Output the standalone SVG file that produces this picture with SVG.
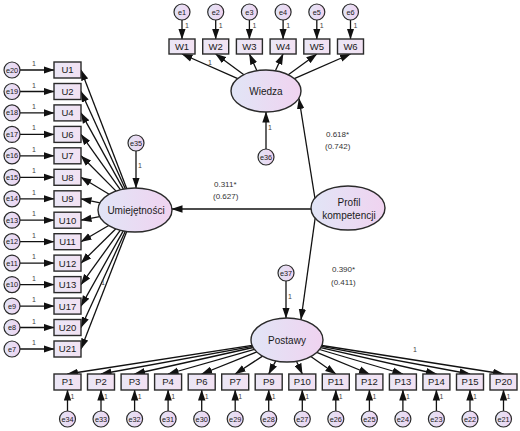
<svg xmlns="http://www.w3.org/2000/svg" width="520" height="431" viewBox="0 0 520 431">
<defs>
<linearGradient id="gl" x1="0" y1="0" x2="1" y2="0"><stop offset="0" stop-color="#e1e5f6"/><stop offset="1" stop-color="#f0d3f0"/></linearGradient>
<linearGradient id="gb" x1="0" y1="0" x2="1" y2="0"><stop offset="0" stop-color="#ebe7f6"/><stop offset="1" stop-color="#f2e1f2"/></linearGradient>
<marker id="ah" markerUnits="userSpaceOnUse" markerWidth="11" markerHeight="8" refX="10.5" refY="4" orient="auto"><path d="M0,0.3 L11,4 L0,7.7 z" fill="#111"/></marker>
<style>
.box{fill:url(#gb);stroke:#2a2a2a;stroke-width:1.4}
.lat{fill:url(#gl);stroke:#2a2a2a;stroke-width:1.4}
.err{fill:url(#gl);stroke:#2a2a2a;stroke-width:1.2}
text{font-family:"Liberation Sans",Arial,sans-serif;text-anchor:middle;fill:#1a1a1a}
.bl{font-size:9.5px}
.ll{font-size:10px}
.el{font-size:7.3px}
.one{font-size:7px;fill:#444}
.cf{font-size:8px;fill:#333;text-anchor:start}
.c line{stroke:#111;stroke-width:1.3;marker-end:url(#ah)}
</style>
</defs>
<rect width="520" height="431" fill="#fff"/>
<g id="connectors" class="c">
<line x1="316" y1="205" x2="299" y2="98.5"/>
<line x1="330" y1="209" x2="172" y2="209"/>
<line x1="316" y1="212" x2="301" y2="319.5"/>
<line x1="266" y1="149" x2="266" y2="112"/>
<line x1="136" y1="151" x2="136" y2="188"/>
<line x1="286" y1="281" x2="286" y2="318"/>
<line x1="237.8" y1="78.6" x2="182" y2="54"/>
<line x1="243.9" y1="74.7" x2="215.7" y2="54"/>
<line x1="256.9" y1="70.7" x2="249.4" y2="54"/>
<line x1="275.4" y1="70.8" x2="283.1" y2="54"/>
<line x1="288.3" y1="74.8" x2="316.8" y2="54"/>
<line x1="294.3" y1="78.6" x2="350.5" y2="54"/>
<line x1="182" y1="20" x2="182" y2="39"/>
<line x1="215.7" y1="20" x2="215.7" y2="39"/>
<line x1="249.4" y1="20" x2="249.4" y2="39"/>
<line x1="283.1" y1="20" x2="283.1" y2="39"/>
<line x1="316.8" y1="20" x2="316.8" y2="39"/>
<line x1="350.5" y1="20" x2="350.5" y2="39"/>
<line x1="126.7" y1="188.6" x2="81" y2="70"/>
<line x1="125.3" y1="188.8" x2="81" y2="91.5"/>
<line x1="123.4" y1="189.1" x2="81" y2="112.9"/>
<line x1="120.5" y1="189.8" x2="81" y2="134.4"/>
<line x1="116.1" y1="191.1" x2="81" y2="155.8"/>
<line x1="109.1" y1="194.3" x2="81" y2="177.3"/>
<line x1="100.1" y1="202.8" x2="81" y2="198.8"/>
<line x1="99.7" y1="216.7" x2="81" y2="220.2"/>
<line x1="108.7" y1="225.5" x2="81" y2="241.7"/>
<line x1="115.9" y1="228.8" x2="81" y2="263.1"/>
<line x1="120.4" y1="230.2" x2="81" y2="284.6"/>
<line x1="123.3" y1="230.9" x2="81" y2="306.1"/>
<line x1="125.3" y1="231.2" x2="81" y2="327.5"/>
<line x1="126.7" y1="231.4" x2="81" y2="349"/>
<line x1="20" y1="70" x2="54" y2="70"/>
<line x1="20" y1="91.5" x2="54" y2="91.5"/>
<line x1="20" y1="112.9" x2="54" y2="112.9"/>
<line x1="20" y1="134.4" x2="54" y2="134.4"/>
<line x1="20" y1="155.8" x2="54" y2="155.8"/>
<line x1="20" y1="177.3" x2="54" y2="177.3"/>
<line x1="20" y1="198.8" x2="54" y2="198.8"/>
<line x1="20" y1="220.2" x2="54" y2="220.2"/>
<line x1="20" y1="241.7" x2="54" y2="241.7"/>
<line x1="20" y1="263.1" x2="54" y2="263.1"/>
<line x1="20" y1="284.6" x2="54" y2="284.6"/>
<line x1="20" y1="306.1" x2="54" y2="306.1"/>
<line x1="20" y1="327.5" x2="54" y2="327.5"/>
<line x1="20" y1="349" x2="54" y2="349"/>
<line x1="252.1" y1="345.4" x2="67.5" y2="374"/>
<line x1="252.5" y1="346.3" x2="101" y2="374"/>
<line x1="253.2" y1="347.5" x2="134.6" y2="374"/>
<line x1="254.4" y1="349.3" x2="168.1" y2="374"/>
<line x1="256.8" y1="352" x2="201.7" y2="374"/>
<line x1="262.5" y1="356.1" x2="235.2" y2="374"/>
<line x1="275.8" y1="360.9" x2="268.7" y2="374"/>
<line x1="296.5" y1="361.2" x2="302.3" y2="374"/>
<line x1="310.8" y1="356.5" x2="335.8" y2="374"/>
<line x1="316.8" y1="352.3" x2="369.4" y2="374"/>
<line x1="319.5" y1="349.5" x2="402.9" y2="374"/>
<line x1="320.7" y1="347.7" x2="436.4" y2="374"/>
<line x1="321.4" y1="346.4" x2="470" y2="374"/>
<line x1="321.9" y1="345.5" x2="503.5" y2="374"/>
<line x1="67.5" y1="411" x2="67.5" y2="390"/>
<line x1="101" y1="411" x2="101" y2="390"/>
<line x1="134.6" y1="411" x2="134.6" y2="390"/>
<line x1="168.1" y1="411" x2="168.1" y2="390"/>
<line x1="201.7" y1="411" x2="201.7" y2="390"/>
<line x1="235.2" y1="411" x2="235.2" y2="390"/>
<line x1="268.7" y1="411" x2="268.7" y2="390"/>
<line x1="302.3" y1="411" x2="302.3" y2="390"/>
<line x1="335.8" y1="411" x2="335.8" y2="390"/>
<line x1="369.4" y1="411" x2="369.4" y2="390"/>
<line x1="402.9" y1="411" x2="402.9" y2="390"/>
<line x1="436.4" y1="411" x2="436.4" y2="390"/>
<line x1="470" y1="411" x2="470" y2="390"/>
<line x1="503.5" y1="411" x2="503.5" y2="390"/>
</g>
<g id="connector-labels">
<text class="cf" x="326" y="137">0.618*</text>
<text class="cf" x="325" y="149">(0.742)</text>
<text class="cf" x="214" y="187">0.311*</text>
<text class="cf" x="213" y="199">(0.627)</text>
<text class="cf" x="332" y="272">0.390*</text>
<text class="cf" x="331" y="285">(0.411)</text>
<text class="one" x="270" y="130">1</text>
<text class="one" x="140" y="168">1</text>
<text class="one" x="290" y="299">1</text>
<text class="one" x="210" y="65">1</text>
<text class="one" x="103" y="285">1</text>
<text class="one" x="415" y="352">1</text>
<text class="one" x="187" y="28">1</text><text class="one" x="220.7" y="28">1</text><text class="one" x="254.4" y="28">1</text><text class="one" x="288.1" y="28">1</text><text class="one" x="321.8" y="28">1</text><text class="one" x="355.5" y="28">1</text>
<text class="one" x="34" y="66">1</text><text class="one" x="34" y="87.5">1</text><text class="one" x="34" y="108.9">1</text><text class="one" x="34" y="130.4">1</text><text class="one" x="34" y="151.8">1</text><text class="one" x="34" y="173.3">1</text><text class="one" x="34" y="194.8">1</text><text class="one" x="34" y="216.2">1</text><text class="one" x="34" y="237.7">1</text><text class="one" x="34" y="259.1">1</text><text class="one" x="34" y="280.6">1</text><text class="one" x="34" y="302.1">1</text><text class="one" x="34" y="323.5">1</text><text class="one" x="34" y="345">1</text>
<text class="one" x="72.5" y="399">1</text><text class="one" x="106" y="399">1</text><text class="one" x="139.6" y="399">1</text><text class="one" x="173.1" y="399">1</text><text class="one" x="206.7" y="399">1</text><text class="one" x="240.2" y="399">1</text><text class="one" x="273.7" y="399">1</text><text class="one" x="307.3" y="399">1</text><text class="one" x="340.8" y="399">1</text><text class="one" x="374.4" y="399">1</text><text class="one" x="407.9" y="399">1</text><text class="one" x="441.4" y="399">1</text><text class="one" x="475" y="399">1</text><text class="one" x="508.5" y="399">1</text>
</g>
<g id="profil"><ellipse class="lat" cx="348" cy="208" rx="37" ry="22"/><text class="ll" x="349" y="206">Profil</text><text class="ll" x="349" y="219">kompetencji</text></g>
<g id="wiedza"><ellipse class="lat" cx="266" cy="91" rx="35" ry="21"/><text class="ll" x="266" y="94.5">Wiedza</text></g>
<g id="umiejetnosci"><ellipse class="lat" cx="135" cy="210" rx="37" ry="22"/><text class="ll" x="136" y="213.5">Umiejętności</text></g>
<g id="postawy"><ellipse class="lat" cx="287" cy="340" rx="36" ry="22"/><text class="ll" x="287" y="343.5">Postawy</text></g>
<g id="e35"><circle class="err" cx="136" cy="143" r="8"/><text class="el" x="136" y="145.5">e35</text></g>
<g id="e36"><circle class="err" cx="266" cy="157" r="8"/><text class="el" x="266" y="159.5">e36</text></g>
<g id="e37"><circle class="err" cx="286" cy="273" r="8"/><text class="el" x="286" y="275.5">e37</text></g>
<g id="W1"><rect class="box" x="169" y="39" width="26" height="15"/><text class="bl" x="182" y="49.8">W1</text></g>
<g id="W2"><rect class="box" x="202.7" y="39" width="26" height="15"/><text class="bl" x="215.7" y="49.8">W2</text></g>
<g id="W3"><rect class="box" x="236.4" y="39" width="26" height="15"/><text class="bl" x="249.4" y="49.8">W3</text></g>
<g id="W4"><rect class="box" x="270.1" y="39" width="26" height="15"/><text class="bl" x="283.1" y="49.8">W4</text></g>
<g id="W5"><rect class="box" x="303.8" y="39" width="26" height="15"/><text class="bl" x="316.8" y="49.8">W5</text></g>
<g id="W6"><rect class="box" x="337.5" y="39" width="26" height="15"/><text class="bl" x="350.5" y="49.8">W6</text></g>
<g id="e1"><circle class="err" cx="182" cy="12" r="8"/><text class="el" x="182" y="14.5">e1</text></g>
<g id="e2"><circle class="err" cx="215.7" cy="12" r="8"/><text class="el" x="215.7" y="14.5">e2</text></g>
<g id="e3"><circle class="err" cx="249.4" cy="12" r="8"/><text class="el" x="249.4" y="14.5">e3</text></g>
<g id="e4"><circle class="err" cx="283.1" cy="12" r="8"/><text class="el" x="283.1" y="14.5">e4</text></g>
<g id="e5"><circle class="err" cx="316.8" cy="12" r="8"/><text class="el" x="316.8" y="14.5">e5</text></g>
<g id="e6"><circle class="err" cx="350.5" cy="12" r="8"/><text class="el" x="350.5" y="14.5">e6</text></g>
<g id="U1"><rect class="box" x="54" y="62" width="27" height="16"/><text class="bl" x="67.5" y="73.4">U1</text></g>
<g id="U2"><rect class="box" x="54" y="83.5" width="27" height="16"/><text class="bl" x="67.5" y="94.9">U2</text></g>
<g id="U4"><rect class="box" x="54" y="104.9" width="27" height="16"/><text class="bl" x="67.5" y="116.3">U4</text></g>
<g id="U6"><rect class="box" x="54" y="126.4" width="27" height="16"/><text class="bl" x="67.5" y="137.8">U6</text></g>
<g id="U7"><rect class="box" x="54" y="147.8" width="27" height="16"/><text class="bl" x="67.5" y="159.2">U7</text></g>
<g id="U8"><rect class="box" x="54" y="169.3" width="27" height="16"/><text class="bl" x="67.5" y="180.7">U8</text></g>
<g id="U9"><rect class="box" x="54" y="190.8" width="27" height="16"/><text class="bl" x="67.5" y="202.2">U9</text></g>
<g id="U10"><rect class="box" x="54" y="212.2" width="27" height="16"/><text class="bl" x="67.5" y="223.6">U10</text></g>
<g id="U11"><rect class="box" x="54" y="233.7" width="27" height="16"/><text class="bl" x="67.5" y="245.1">U11</text></g>
<g id="U12"><rect class="box" x="54" y="255.1" width="27" height="16"/><text class="bl" x="67.5" y="266.5">U12</text></g>
<g id="U13"><rect class="box" x="54" y="276.6" width="27" height="16"/><text class="bl" x="67.5" y="288">U13</text></g>
<g id="U17"><rect class="box" x="54" y="298.1" width="27" height="16"/><text class="bl" x="67.5" y="309.5">U17</text></g>
<g id="U20"><rect class="box" x="54" y="319.5" width="27" height="16"/><text class="bl" x="67.5" y="330.9">U20</text></g>
<g id="U21"><rect class="box" x="54" y="341" width="27" height="16"/><text class="bl" x="67.5" y="352.4">U21</text></g>
<g id="e20"><circle class="err" cx="12" cy="70" r="8"/><text class="el" x="12" y="72.5">e20</text></g>
<g id="e19"><circle class="err" cx="12" cy="91.5" r="8"/><text class="el" x="12" y="94">e19</text></g>
<g id="e18"><circle class="err" cx="12" cy="112.9" r="8"/><text class="el" x="12" y="115.4">e18</text></g>
<g id="e17"><circle class="err" cx="12" cy="134.4" r="8"/><text class="el" x="12" y="136.9">e17</text></g>
<g id="e16"><circle class="err" cx="12" cy="155.8" r="8"/><text class="el" x="12" y="158.3">e16</text></g>
<g id="e15"><circle class="err" cx="12" cy="177.3" r="8"/><text class="el" x="12" y="179.8">e15</text></g>
<g id="e14"><circle class="err" cx="12" cy="198.8" r="8"/><text class="el" x="12" y="201.3">e14</text></g>
<g id="e13"><circle class="err" cx="12" cy="220.2" r="8"/><text class="el" x="12" y="222.7">e13</text></g>
<g id="e12"><circle class="err" cx="12" cy="241.7" r="8"/><text class="el" x="12" y="244.2">e12</text></g>
<g id="e11"><circle class="err" cx="12" cy="263.1" r="8"/><text class="el" x="12" y="265.6">e11</text></g>
<g id="e10"><circle class="err" cx="12" cy="284.6" r="8"/><text class="el" x="12" y="287.1">e10</text></g>
<g id="e9"><circle class="err" cx="12" cy="306.1" r="8"/><text class="el" x="12" y="308.6">e9</text></g>
<g id="e8"><circle class="err" cx="12" cy="327.5" r="8"/><text class="el" x="12" y="330">e8</text></g>
<g id="e7"><circle class="err" cx="12" cy="349" r="8"/><text class="el" x="12" y="351.5">e7</text></g>
<g id="P1"><rect class="box" x="54" y="374" width="27" height="16"/><text class="bl" x="67.5" y="385.4">P1</text></g>
<g id="P2"><rect class="box" x="87.5" y="374" width="27" height="16"/><text class="bl" x="101" y="385.4">P2</text></g>
<g id="P3"><rect class="box" x="121.1" y="374" width="27" height="16"/><text class="bl" x="134.6" y="385.4">P3</text></g>
<g id="P4"><rect class="box" x="154.6" y="374" width="27" height="16"/><text class="bl" x="168.1" y="385.4">P4</text></g>
<g id="P6"><rect class="box" x="188.2" y="374" width="27" height="16"/><text class="bl" x="201.7" y="385.4">P6</text></g>
<g id="P7"><rect class="box" x="221.7" y="374" width="27" height="16"/><text class="bl" x="235.2" y="385.4">P7</text></g>
<g id="P9"><rect class="box" x="255.2" y="374" width="27" height="16"/><text class="bl" x="268.7" y="385.4">P9</text></g>
<g id="P10"><rect class="box" x="288.8" y="374" width="27" height="16"/><text class="bl" x="302.3" y="385.4">P10</text></g>
<g id="P11"><rect class="box" x="322.3" y="374" width="27" height="16"/><text class="bl" x="335.8" y="385.4">P11</text></g>
<g id="P12"><rect class="box" x="355.9" y="374" width="27" height="16"/><text class="bl" x="369.4" y="385.4">P12</text></g>
<g id="P13"><rect class="box" x="389.4" y="374" width="27" height="16"/><text class="bl" x="402.9" y="385.4">P13</text></g>
<g id="P14"><rect class="box" x="422.9" y="374" width="27" height="16"/><text class="bl" x="436.4" y="385.4">P14</text></g>
<g id="P15"><rect class="box" x="456.5" y="374" width="27" height="16"/><text class="bl" x="470" y="385.4">P15</text></g>
<g id="P20"><rect class="box" x="490" y="374" width="27" height="16"/><text class="bl" x="503.5" y="385.4">P20</text></g>
<g id="e34"><circle class="err" cx="67.5" cy="419" r="8"/><text class="el" x="67.5" y="421.5">e34</text></g>
<g id="e33"><circle class="err" cx="101" cy="419" r="8"/><text class="el" x="101" y="421.5">e33</text></g>
<g id="e32"><circle class="err" cx="134.6" cy="419" r="8"/><text class="el" x="134.6" y="421.5">e32</text></g>
<g id="e31"><circle class="err" cx="168.1" cy="419" r="8"/><text class="el" x="168.1" y="421.5">e31</text></g>
<g id="e30"><circle class="err" cx="201.7" cy="419" r="8"/><text class="el" x="201.7" y="421.5">e30</text></g>
<g id="e29"><circle class="err" cx="235.2" cy="419" r="8"/><text class="el" x="235.2" y="421.5">e29</text></g>
<g id="e28"><circle class="err" cx="268.7" cy="419" r="8"/><text class="el" x="268.7" y="421.5">e28</text></g>
<g id="e27"><circle class="err" cx="302.3" cy="419" r="8"/><text class="el" x="302.3" y="421.5">e27</text></g>
<g id="e26"><circle class="err" cx="335.8" cy="419" r="8"/><text class="el" x="335.8" y="421.5">e26</text></g>
<g id="e25"><circle class="err" cx="369.4" cy="419" r="8"/><text class="el" x="369.4" y="421.5">e25</text></g>
<g id="e24"><circle class="err" cx="402.9" cy="419" r="8"/><text class="el" x="402.9" y="421.5">e24</text></g>
<g id="e23"><circle class="err" cx="436.4" cy="419" r="8"/><text class="el" x="436.4" y="421.5">e23</text></g>
<g id="e22"><circle class="err" cx="470" cy="419" r="8"/><text class="el" x="470" y="421.5">e22</text></g>
<g id="e21"><circle class="err" cx="503.5" cy="419" r="8"/><text class="el" x="503.5" y="421.5">e21</text></g>
</svg>
